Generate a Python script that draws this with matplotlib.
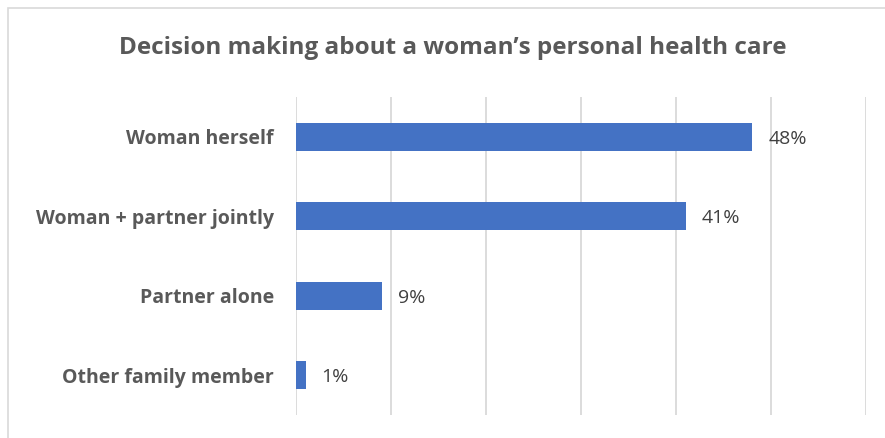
import matplotlib.pyplot as plt
from matplotlib.patches import Rectangle

categories = ["Woman herself", "Woman + partner jointly", "Partner alone", "Other family member"]
shares = [48, 41, 9, 1]
ticks = [0, 10, 20, 30, 40, 50, 60]

TEXT = "#595959"
BAR = "#4472C4"
GRID = "#D9D9D9"


def main():
    fig = plt.figure(figsize=(8.85, 4.38), dpi=100)
    plt.rcParams['font.family'] = ['Open Sans', 'DejaVu Sans']

    # chart frame
    fig.patches.append(Rectangle((8 / 885, -0.1), 1.2, 1 - 8 / 438 + 0.1,
                                 transform=fig.transFigure, fill=False,
                                 edgecolor=GRID, linewidth=1.2))

    ax = fig.add_axes([296 / 885, 1 - 415 / 438, 570 / 885, 318 / 438])
    ypos = list(range(len(categories)))
    ax.barh(ypos, shares, height=0.35, color=BAR, zorder=3)
    ax.set_ylim(len(categories) - 0.5, -0.5)
    ax.set_xlim(ticks[0], ticks[-1])
    ax.set_xticks(ticks)
    ax.tick_params(axis='x', length=0, labelbottom=False)
    ax.tick_params(axis='y', length=0, pad=16)
    ax.set_yticks(ypos)
    ax.set_yticklabels(categories, fontsize=14, fontweight='bold', color=TEXT)
    ax.grid(axis='x', color=GRID, linewidth=1.3, zorder=0)
    for s in ax.spines.values():
        s.set_visible(False)

    for y, v in zip(ypos, shares):
        ax.text(v + 1.7, y, f"{v}%", va='center_baseline', ha='left', fontsize=14, color="#404040")

    fig.text(453 / 885, 1 - 48 / 438, "Decision making about a woman\u2019s personal health care",
             ha='center', va='center', fontsize=17.5, fontweight='bold', color=TEXT)

    fig.savefig("out.png", dpi=100)


if __name__ == "__main__":
    main()
